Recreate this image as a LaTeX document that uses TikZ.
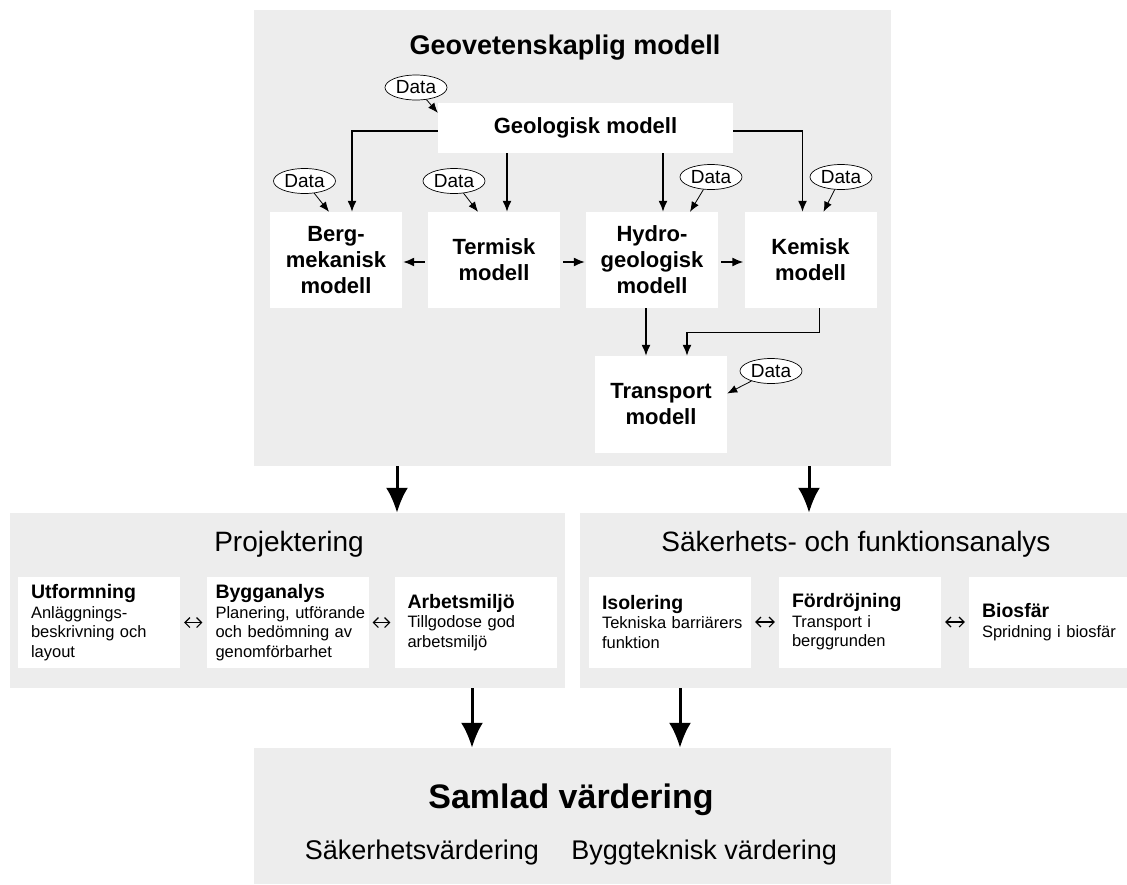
\documentclass[tikz,border=0pt]{standalone}
\usepackage{fontspec}
\setmainfont{Liberation Sans}
\usetikzlibrary{arrows.meta,positioning,shapes.geometric}
\definecolor{panelgray}{RGB}{237,237,237}
\newcommand\rubrik[1]{{\fontsize{19.5}{21}\selectfont\bfseries #1}}

\begin{document}
\begin{tikzpicture}[x=1pt, y=-1pt,
  panel/.style={fill=panelgray, inner sep=0pt},
  ptitle/.style={font=\fontsize{28}{32}\selectfont},
  model/.style={fill=white, minimum width=132pt, minimum height=96pt,
                inner sep=0pt, align=center, font=\fontsize{22}{26}\selectfont\bfseries},
  data/.style={ellipse, draw, fill=white, line width=0.7pt, minimum width=62pt,
               minimum height=25pt, inner sep=0pt, font=\fontsize{19}{21}\selectfont},
  part/.style={fill=white, minimum height=91pt, text width=136pt, inner xsep=13pt,
               align=left, font=\fontsize{16.5}{19.5}\selectfont},
  arr/.style={-{Latex[length=11pt,width=9pt]}, line width=1.4pt},
  darr/.style={-{Latex[length=10pt,width=8pt]}, line width=0.8pt},
  big/.style={-{Latex[length=25pt,width=22pt]}, line width=3pt},
  dbl/.style={{Straight Barb[length=5pt,width=10pt]}-{Straight Barb[length=5pt,width=10pt]},
              line width=1.1pt, shorten <=4pt, shorten >=4pt}]
  \useasboundingbox (0,0) rectangle (1127,884);
  % panels
  \node[panel, minimum width=637pt, minimum height=456pt] (geo) at (572.5,238) {};
  \node[panel, minimum width=555pt, minimum height=175pt] (proj) at (287.5,600.5) {};
  \node[panel, minimum width=547pt, minimum height=175pt] (saf) at (853.5,600.5) {};
  \node[panel, minimum width=637pt, minimum height=136pt] (sam) at (572.5,816) {};
  \node[font=\fontsize{27}{30}\selectfont\bfseries] (geotitle) at (565,48) {Geovetenskaplig modell};
  \node[ptitle] (projtitle) at (289,544) {Projektering};
  \node[ptitle] (saftitle) at (856,544) {Säkerhets- och funktionsanalys};
  \node[font=\fontsize{34}{38}\selectfont\bfseries] (samtitle) at (571,800) {Samlad värdering};
  \node[font=\fontsize{27}{30}\selectfont] (samsub) at (571,853)
       {Säkerhetsvärdering\hspace{1.2em}Byggteknisk värdering};
  % models
  \node[model, minimum width=295pt, minimum height=50pt] (geol) at (585.5,128) {Geologisk modell};
  \node[model] (berg) at (336,260) {Berg-\\mekanisk\\modell};
  \node[model] (term) at (494,260) {Termisk\\modell};
  \node[model] (hydro) at (652,260) {Hydro-\\geologisk\\modell};
  \node[model] (kem) at (810.5,260) {Kemisk\\modell};
  \node[model, minimum height=97pt] (trans) at (661,404.5) {Transport\\modell};
  % data
  \node[data] (d0) at (416,87.5) {Data};
  \node[data] (d1) at (304.5,181) {Data};
  \node[data] (d2) at (454,181) {Data};
  \node[data] (d3) at (711,177) {Data};
  \node[data] (d4) at (841,177) {Data};
  \node[data] (d5) at (771,371) {Data};
  % geology to the models
  \draw[arr] ([yshift=-3pt]geol.west) -| ([xshift=16pt]berg.north);
  \coordinate (gt) at ([xshift=13pt]term.north);
  \draw[arr] (gt |- geol.south) -- (gt);
  \coordinate (gh) at ([xshift=11pt]hydro.north);
  \draw[arr] (gh |- geol.south) -- (gh);
  \draw[arr] ([yshift=-3pt]geol.east) -| ([xshift=-8pt]kem.north);
  \draw[darr] (d0) -- ([yshift=-10pt]geol.north west);
  \draw[darr] (d1) -- ([xshift=-7pt]berg.north);
  \draw[darr] (d2) -- ([xshift=-16pt]term.north);
  \draw[darr] (d3) -- ([xshift=38pt]hydro.north);
  \draw[darr] (d4) -- ([xshift=13pt]kem.north);
  \draw[darr] (d5) -- ([yshift=11pt]trans.east);
  \draw[arr, shorten <=3pt, shorten >=1pt] ([yshift=-2pt]term.west) -- ([yshift=-2pt]berg.east);
  \draw[arr, shorten <=3pt, shorten >=1pt] ([yshift=-2pt]term.east) -- ([yshift=-2pt]hydro.west);
  \draw[arr, shorten <=3pt, shorten >=1pt] ([yshift=-2pt]hydro.east) -- ([yshift=-2pt]kem.west);
  \coordinate (ht) at ([xshift=-6pt]hydro.south);
  \draw[arr] (ht) -- (ht |- trans.north);
  \coordinate (kt) at ([xshift=9pt]kem.south);
  \coordinate (tk) at ([xshift=26pt]trans.north);
  \draw[arr] (kt) -- ++(0,24) -| (tk);
  % parts
  \node[part] (utf) at (99,622.5) {\rubrik{Utformning}\\Anläggnings-\\beskrivning och\\layout};
  \node[part, inner xsep=9pt, text width=144pt] (bygg) at (287.5,622.5)
       {\rubrik{Bygganalys}\\\mbox{Planering, utförande}\\och bedömning av\\genomförbarhet};
  \node[part] (arb) at (475.5,622.5) {\rubrik{Arbetsmiljö}\\Tillgodose god\\arbetsmiljö};
  \node[part] (iso) at (670,622) {\rubrik{Isolering}\\\mbox{Tekniska barriärers}\\funktion};
  \node[part] (ford) at (860,622) {\rubrik{Fördröjning}\\Transport i\\berggrunden};
  \node[part, text width=132pt] (bio) at (1048,622) {\rubrik{Biosfär}\\\mbox{Spridning i biosfär}};
  \draw[dbl] (utf) -- (bygg);
  \draw[dbl] (bygg) -- (arb);
  \draw[dbl] (iso) -- (ford);
  \draw[dbl] (ford) -- (bio);
  % between the panels
  \coordinate (b1) at ([xshift=-175.5pt]geo.south);
  \draw[big] (b1) -- (b1 |- proj.north);
  \coordinate (b2) at ([xshift=236.5pt]geo.south);
  \draw[big] (b2) -- (b2 |- saf.north);
  \coordinate (b3) at ([xshift=184.5pt]proj.south);
  \draw[big] (b3) -- (b3 |- sam.north);
  \coordinate (b4) at ([xshift=-173.5pt]saf.south);
  \draw[big] (b4) -- (b4 |- sam.north);
\end{tikzpicture}
\end{document}
